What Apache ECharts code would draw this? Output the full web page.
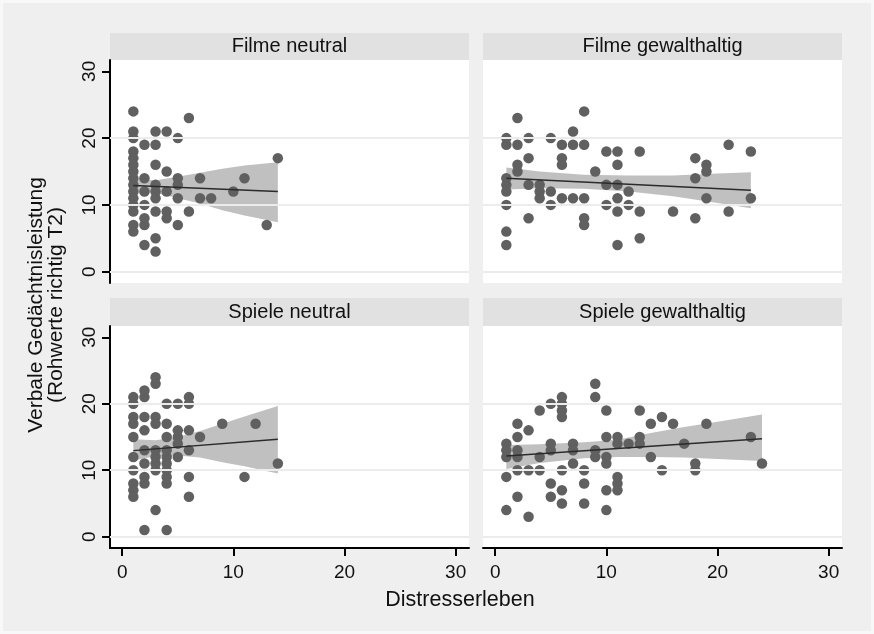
<!DOCTYPE html>
<html>
<head>
<meta charset="utf-8">
<script src="https://cdn.jsdelivr.net/npm/echarts@6/dist/echarts.min.js"></script>
<style>
  html, body { margin: 0; padding: 0; background: #f8f8f8; }
  #chart { width: 874px; height: 634px; }
</style>
</head>
<body>
<div id="chart"></div>
<script>
// panel titles and axis ticks
const panelTitles = ['Filme neutral', 'Filme gewalthaltig', 'Spiele neutral', 'Spiele gewalthaltig'];
const xTicks = [0, 10, 20, 30];
const yTicks = [0, 10, 20, 30];
const gridValues = [0, 10, 20];

// Filme neutral: [Distresserleben, Rohwerte]
const filmeNeutral = [
  [1, 24], [1, 21], [1, 20], [1, 18], [1, 17], [1, 16], [1, 15], [1, 14], [1, 13], [1, 12], [1, 11], [1, 10], [1, 9], [1, 7], [1, 6],
  [2, 19], [2, 14], [2, 12], [2, 10], [2, 8], [2, 7], [2, 4],
  [3, 21], [3, 19], [3, 16], [3, 13], [3, 12], [3, 11], [3, 9], [3, 5], [3, 3],
  [4, 21], [4, 15], [4, 12], [4, 9], [4, 8],
  [5, 20], [5, 14], [5, 13], [5, 11], [5, 7],
  [6, 23], [6, 9], [7, 14], [7, 11], [8, 11], [10, 12], [11, 14], [13, 7], [14, 17]
];
const filmeNeutralFit = [[1, 12.9], [14, 12.0]];
const filmeNeutralBandX = [1, 3, 5, 7, 9, 11, 14];
const filmeNeutralBandLo = [11.7, 11.8, 11.0, 10.2, 9.2, 8.4, 7.4];
const filmeNeutralBandHi = [13.9, 13.7, 14.2, 14.8, 15.4, 15.9, 16.4];

// Filme gewalthaltig
const filmeGewalt = [
  [1, 20], [1, 19], [1, 14], [1, 13], [1, 12], [1, 10], [1, 6], [1, 4],
  [2, 23], [2, 19], [2, 16], [2, 15],
  [3, 20], [3, 17], [3, 13], [3, 8],
  [4, 13], [4, 12], [4, 11],
  [5, 20], [5, 12], [5, 10],
  [6, 19], [6, 17], [6, 16], [6, 11],
  [7, 21], [7, 19], [7, 11],
  [8, 24], [8, 19], [8, 11], [8, 8], [8, 7],
  [9, 15], [10, 18], [10, 13], [10, 10],
  [11, 18], [11, 16], [11, 13], [11, 11], [11, 9], [11, 4],
  [12, 12], [12, 10], [13, 18], [13, 9], [13, 5], [16, 9],
  [18, 17], [18, 14], [18, 8], [19, 16], [19, 15], [19, 11],
  [21, 19], [21, 9], [23, 18], [23, 11]
];
const filmeGewaltFit = [[1, 14.0], [23, 12.2]];
const filmeGewaltBandX = [1, 4, 8, 12, 16, 20, 23];
const filmeGewaltBandLo = [12.3, 12.5, 12.4, 12.0, 11.3, 10.3, 9.5];
const filmeGewaltBandHi = [15.6, 15.0, 14.5, 14.4, 14.4, 14.7, 14.9];

// Spiele neutral
const spieleNeutral = [
  [1, 21], [1, 20], [1, 18], [1, 17], [1, 15], [1, 12], [1, 10], [1, 8], [1, 7], [1, 6],
  [2, 22], [2, 21], [2, 18], [2, 16], [2, 13], [2, 11], [2, 9], [2, 8], [2, 1],
  [3, 24], [3, 23], [3, 18], [3, 17], [3, 13], [3, 12], [3, 11], [3, 10], [3, 4],
  [4, 20], [4, 17], [4, 15], [4, 13], [4, 12], [4, 11], [4, 10], [4, 9], [4, 8], [4, 1],
  [5, 20], [5, 16], [5, 15], [5, 14], [5, 12],
  [6, 21], [6, 20], [6, 16], [6, 13], [6, 9], [6, 6],
  [7, 15], [9, 17], [11, 9], [12, 17], [14, 11]
];
const spieleNeutralFit = [[1, 12.95], [14, 14.65]];
const spieleNeutralBandX = [1, 3, 5, 7, 9, 11, 14];
const spieleNeutralBandLo = [11.45, 12.1, 12.2, 11.9, 11.2, 10.6, 9.5];
const spieleNeutralBandHi = [14.65, 14.5, 15.0, 15.9, 17.0, 18.1, 19.65];

// Spiele gewalthaltig
const spieleGewalt = [
  [1, 14], [1, 13], [1, 12], [1, 9], [1, 4],
  [2, 17], [2, 15], [2, 13], [2, 12], [2, 10], [2, 6],
  [3, 16], [3, 10], [3, 3],
  [4, 19], [4, 12], [4, 10],
  [5, 20], [5, 14], [5, 13], [5, 8], [5, 6],
  [6, 21], [6, 20], [6, 19], [6, 18], [6, 10], [6, 7], [6, 5],
  [7, 14], [7, 13], [7, 11],
  [8, 10], [8, 8], [8, 5],
  [9, 23], [9, 21], [9, 13], [9, 12],
  [10, 19], [10, 15], [10, 12], [10, 11], [10, 7], [10, 4],
  [11, 15], [11, 14], [11, 9], [11, 8], [11, 7],
  [12, 14], [13, 19], [13, 15], [13, 14], [14, 17], [14, 12],
  [15, 18], [15, 10], [16, 17], [17, 14], [18, 11], [18, 10],
  [19, 17], [23, 15], [24, 11]
];
const spieleGewaltFit = [[1, 12.15], [24, 14.75]];
const spieleGewaltBandX = [1, 4, 8, 11, 14, 17, 20, 24];
const spieleGewaltBandLo = [10.2, 11.1, 11.8, 12.0, 12.0, 11.9, 11.7, 11.4];
const spieleGewaltBandHi = [13.8, 13.9, 14.2, 14.6, 15.6, 16.5, 17.3, 18.4];

const panels = [
  { pts: filmeNeutral, fit: filmeNeutralFit, bx: filmeNeutralBandX, lo: filmeNeutralBandLo, hi: filmeNeutralBandHi },
  { pts: filmeGewalt, fit: filmeGewaltFit, bx: filmeGewaltBandX, lo: filmeGewaltBandLo, hi: filmeGewaltBandHi },
  { pts: spieleNeutral, fit: spieleNeutralFit, bx: spieleNeutralBandX, lo: spieleNeutralBandLo, hi: spieleNeutralBandHi },
  { pts: spieleGewalt, fit: spieleGewaltFit, bx: spieleGewaltBandX, lo: spieleGewaltBandLo, hi: spieleGewaltBandHi }
];

const FONT = 'Liberation Sans, Arial, Helvetica, sans-serif';
const TXT = '#111111';

// panel boxes: left, top (plot), header top
const boxes = [
  { left: 110, top: 60, height: 223, headTop: 33 },
  { left: 483, top: 60, height: 223, headTop: 33 },
  { left: 110, top: 326, height: 222, headTop: 298 },
  { left: 483, top: 326, height: 222, headTop: 298 }
];
const PW = 359;

const grids = boxes.map(b => ({ left: b.left, top: b.top, width: PW, height: b.height }));

const xAxes = boxes.map((b, i) => {
  const bottom = i >= 2;
  return {
    type: 'value', gridIndex: i, min: -1.1, max: 31.2,
    splitLine: { show: false },
    axisLine: { show: bottom, onZero: false, lineStyle: { color: '#000', width: 2 } },
    axisTick: { show: bottom, customValues: xTicks, length: 8, lineStyle: { color: '#000', width: 2 } },
    axisLabel: { show: bottom, customValues: xTicks, fontSize: 19, color: TXT, fontFamily: FONT, margin: 15 }
  };
});

const yAxes = boxes.map((b, i) => {
  const left = i % 2 === 0;
  return {
    type: 'value', gridIndex: i, min: -1.7, max: 31.7,
    splitLine: { show: false },
    axisLine: { show: left, onZero: false, lineStyle: { color: '#000', width: 2 } },
    axisTick: { show: left, customValues: yTicks, length: 8, lineStyle: { color: '#000', width: 2 } },
    axisLabel: { show: left, customValues: yTicks, rotate: 90, fontSize: 19, color: TXT, fontFamily: FONT, margin: 11 }
  };
});

const series = [];
panels.forEach((p, i) => {
  // grid lines
  series.push({
    type: 'line', xAxisIndex: i, yAxisIndex: i, data: [], z: 1, silent: true,
    markLine: {
      silent: true, symbol: ['none', 'none'], label: { show: false }, animation: false,
      lineStyle: { type: 'solid', color: '#ececec', width: 2 },
      data: gridValues.map(v => ({ yAxis: v }))
    }
  });
  // confidence band
  series.push({
    type: 'custom', xAxisIndex: i, yAxisIndex: i, z: 2, silent: true,
    data: [[p.bx[0], p.lo[0]]],
    renderItem: (params, api) => {
      const pts = [];
      p.bx.forEach((x, k) => pts.push(api.coord([x, p.hi[k]])));
      for (let k = p.bx.length - 1; k >= 0; k--) pts.push(api.coord([p.bx[k], p.lo[k]]));
      return { type: 'polygon', shape: { points: pts }, style: { fill: '#c0c0c0' } };
    }
  });
  // points
  series.push({
    type: 'scatter', xAxisIndex: i, yAxisIndex: i, z: 3, silent: true,
    symbolSize: 10.5, itemStyle: { color: '#606060', opacity: 1 },
    data: p.pts
  });
  // fitted line
  series.push({
    type: 'line', xAxisIndex: i, yAxisIndex: i, z: 4, silent: true,
    showSymbol: false, symbol: 'none',
    lineStyle: { color: '#2b2b2b', width: 1.5 },
    data: p.fit
  });
});

const graphics = [];
boxes.forEach((b, i) => {
  graphics.push({
    type: 'rect', silent: true, z: -1,
    shape: { x: b.left, y: b.headTop, width: PW, height: b.top - b.headTop },
    style: { fill: '#e1e1e1' }
  });
  graphics.push({
    type: 'text', silent: true,
    x: b.left + PW / 2, y: (b.headTop + b.top) / 2,
    style: { text: panelTitles[i], fontSize: 20, fontFamily: FONT, fill: TXT, textAlign: 'center', textVerticalAlign: 'middle' }
  });
  // white plot background
  graphics.push({
    type: 'rect', silent: true, z: -1,
    shape: { x: b.left, y: b.top, width: PW, height: b.height },
    style: { fill: '#ffffff' }
  });
});
graphics.push({
  type: 'text', silent: true, x: 36, y: 305, rotation: Math.PI / 2,
  style: { text: 'Verbale Gedächtnisleistung', fontSize: 21, fontFamily: FONT, fill: TXT, textAlign: 'center', textVerticalAlign: 'middle' }
});
graphics.push({
  type: 'text', silent: true, x: 56, y: 305, rotation: Math.PI / 2,
  style: { text: '(Rohwerte richtig T2)', fontSize: 21, fontFamily: FONT, fill: TXT, textAlign: 'center', textVerticalAlign: 'middle' }
});
graphics.push({
  type: 'text', silent: true, x: 460, y: 600,
  style: { text: 'Distresserleben', fontSize: 21.5, fontFamily: FONT, fill: TXT, textAlign: 'center', textVerticalAlign: 'middle' }
});
graphics.push({
  type: 'rect', silent: true, z: 100,
  shape: { x: 0, y: 0, width: 874, height: 634 },
  style: { fill: 'none', stroke: '#f8f8f8', lineWidth: 6 }
});

const chart = echarts.init(document.getElementById('chart'));
chart.setOption({
  animation: false,
  backgroundColor: '#efefef',
  grid: grids,
  xAxis: xAxes,
  yAxis: yAxes,
  series: series,
  graphic: { elements: graphics }
});
window.addEventListener('resize', () => chart.resize());
</script>
</body>
</html>
